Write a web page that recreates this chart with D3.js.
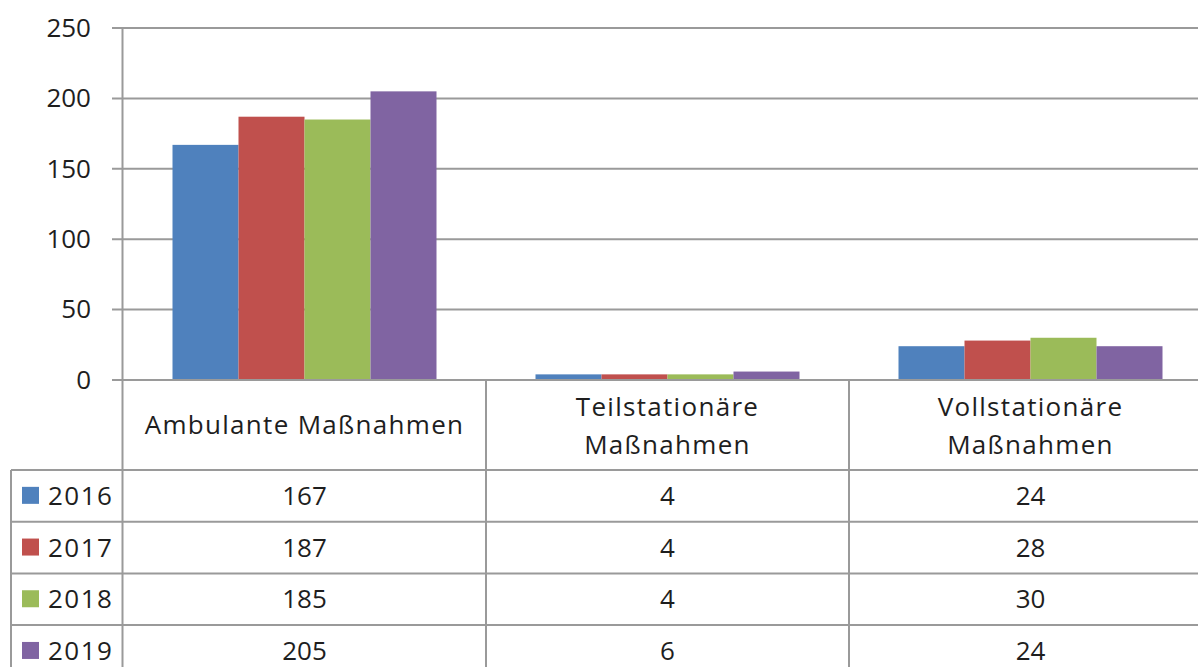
<!DOCTYPE html>
<html>
<head>
<meta charset="utf-8">
<script src="https://cdn.jsdelivr.net/npm/d3@7"></script>
<style>
  body { margin: 0; background: #fff; }
  svg { display: block; font-family: "Open Sans", sans-serif; }
</style>
</head>
<body>
<svg width="1198" height="667"></svg>
<script>
// chart data
var categories = [["Ambulante Maßnahmen"], ["Teilstationäre", "Maßnahmen"], ["Vollstationäre", "Maßnahmen"]];
var years = ["2016", "2017", "2018", "2019"];
var colors = ["#4F81BD", "#C0504D", "#9BBB59", "#8064A2"];
var values2016 = [167, 4, 24];
var values2017 = [187, 4, 28];
var values2018 = [185, 4, 30];
var values2019 = [205, 6, 24];
var yTicks = [0, 50, 100, 150, 200, 250];

var series = [values2016, values2017, values2018, values2019];

var svg = d3.select("svg");
var plotLeft = 123, plotRight = 1212, plotTop = 28, base = 380;
var headerH = 90, rowH = 51.7, tableLeft = 11;
var lineColor = "#9a9a9a";
var textColor = "#1e1e1e";

var x0 = d3.scaleBand()
    .domain(d3.range(categories.length))
    .range([plotLeft, plotRight]);

var x1 = d3.scaleBand()
    .domain(years)
    .range([0, x0.bandwidth()])
    .paddingInner(0)
    .paddingOuter(0.75);

var y = d3.scaleLinear()
    .domain([0, 250])
    .range([base, plotTop]);

// gridlines
svg.append("g").selectAll("line.grid")
    .data(yTicks)
    .enter().append("line")
    .attr("class", "grid")
    .attr("x1", plotLeft - 11)
    .attr("x2", plotRight)
    .attr("y1", function(d) { return y(d); })
    .attr("y2", function(d) { return y(d); })
    .attr("stroke", lineColor)
    .attr("stroke-width", 2);

// y axis labels
var yAxis = d3.axisLeft(y).tickValues(yTicks).tickSize(0).tickPadding(32);
var ga = svg.append("g").attr("transform", "translate(" + plotLeft + ",0)").call(yAxis);
ga.select(".domain").remove();
ga.selectAll("text")
    .attr("font-size", 26)
    .attr("font-family", "Open Sans")
    .attr("fill", textColor);

// bars
series.forEach(function(vals, si)
{
    svg.append("g").selectAll("rect")
        .data(vals)
        .enter().append("rect")
        .attr("x", function(d, i) { return x0(i) + x1(years[si]); })
        .attr("width", x1.bandwidth())
        .attr("y", function(d) { return y(d); })
        .attr("height", function(d) { return y(0) - y(d); })
        .attr("fill", colors[si]);
});

// table lines
var tableBottom = base + headerH + rowH * years.length;
var g = svg.append("g").attr("stroke", lineColor).attr("stroke-width", 2);
g.append("line").attr("x1", plotLeft - 0.5).attr("x2", plotLeft - 0.5).attr("y1", plotTop).attr("y2", tableBottom);
g.append("line").attr("x1", plotLeft).attr("x2", plotRight).attr("y1", base).attr("y2", base);
d3.range(1, categories.length).forEach(function(i)
{
    g.append("line").attr("x1", x0(i)).attr("x2", x0(i)).attr("y1", base).attr("y2", tableBottom);
});
g.append("line").attr("x1", tableLeft).attr("x2", tableLeft).attr("y1", base + headerH).attr("y2", tableBottom);
d3.range(years.length + 1).forEach(function(r)
{
    var yy = base + headerH + r * rowH;
    g.append("line").attr("x1", tableLeft).attr("x2", plotRight).attr("y1", yy).attr("y2", yy);
});

// header text
categories.forEach(function(lines, i)
{
    var cx = x0(i) + x0.bandwidth() / 2;
    var t = svg.append("text")
        .attr("x", cx)
        .attr("text-anchor", "middle")
        .attr("font-size", 26)
        .attr("letter-spacing", 1.3)
        .attr("fill", textColor);
    var startY = lines.length == 1 ? base + 54 : base + 36;
    lines.forEach(function(l, k)
    {
        t.append("tspan").attr("x", cx).attr("y", startY + k * 38).text(l);
    });
});

// rows
years.forEach(function(yr, r)
{
    var rowMid = base + headerH + r * rowH + rowH / 2;
    svg.append("rect")
        .attr("x", 22).attr("y", rowMid - 9)
        .attr("width", 17).attr("height", 17)
        .attr("fill", colors[r]);
    svg.append("text")
        .attr("x", 48).attr("y", rowMid + 9)
        .attr("font-size", 26).attr("letter-spacing", 1.5).attr("fill", textColor)
        .text(yr);
    svg.append("g").selectAll("text")
        .data(series[r])
        .enter().append("text")
        .attr("x", function(d, i) { return x0(i) + x0.bandwidth() / 2; })
        .attr("y", rowMid + 9)
        .attr("text-anchor", "middle")
        .attr("font-size", 26).attr("fill", textColor)
        .text(function(d) { return d; });
});
</script>
</body>
</html>
